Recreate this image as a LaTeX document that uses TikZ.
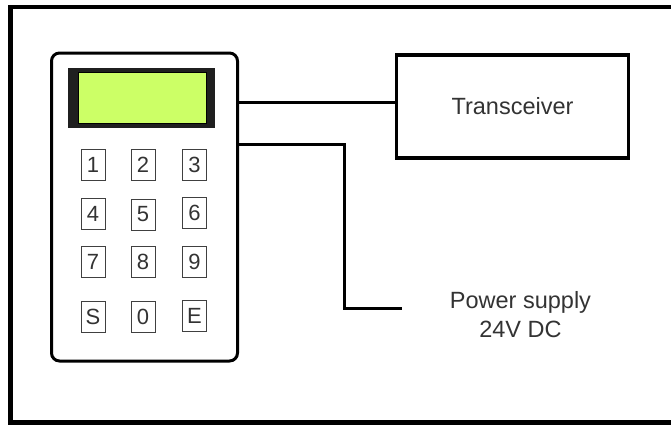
\documentclass[tikz,border=0pt]{standalone}
\usepackage{fontspec}
\setmainfont{Liberation Sans}
\begin{document}
\begin{tikzpicture}[x=1pt,y=-1pt,
  keybox/.style={draw=black!75,line width=0.9pt,minimum width=24pt,minimum height=31pt,inner sep=0pt,outer sep=0pt,text=black!80,font=\fontsize{22}{26}\selectfont},
  label/.style={text=black!80,font=\fontsize{23.5}{29}\selectfont,align=center},
  wire/.style={draw=black,line width=3pt}]
\useasboundingbox (0,0) rectangle (671,424);
\clip (0,0) rectangle (671,424);
% outer frame
\draw[line width=4.5pt] (10.5,7) rectangle (690,422.5);
% keypad body
\node[draw=black,line width=3pt,rounded corners=8pt,minimum width=186pt,minimum height=308pt,inner sep=0pt,outer sep=0pt] (keypad) at (144.5,207) {};
% display
\node[fill=black!88,minimum width=147pt,minimum height=60pt,inner sep=0pt,outer sep=0pt] (lcd) at (141.5,98) {};
\node[fill={rgb,255:red,204;green,255;blue,102},draw=black,line width=0.8pt,minimum width=128pt,minimum height=51pt,inner sep=0pt] (screen) at (142,97.5) {};
% keys
\node[keybox] (k1) at (93,164.5) {1};
\node[keybox] (k2) at (143,164.5) {2};
\node[keybox] (k3) at (194.5,164.5) {3};
\node[keybox] (k4) at (93,213.5) {4};
\node[keybox] (k5) at (143,214.5) {5};
\node[keybox] (k6) at (194.5,213) {6};
\node[keybox] (k7) at (93,261.5) {7};
\node[keybox] (k8) at (143,261.5) {8};
\node[keybox] (k9) at (194.5,261.5) {9};
\node[keybox] (kS) at (93,317) {S};
\node[keybox] (k0) at (143,317) {0};
\node[keybox] (kE) at (194.5,315.5) {E};
% transceiver
\node[draw=black,line width=3.3pt,minimum width=232pt,minimum height=103pt,inner sep=0pt,outer sep=0pt,label] (trans) at (512.5,106.5) {Transceiver};
% power supply label
\node[label] (power) at (520.5,315) {Power supply\\24V DC};
% connectors
\coordinate (c1) at (237.5,102.3);
\draw[wire] (c1) -- (c1 -| trans.west);
\coordinate (c2) at (237.5,144.3);
\coordinate (pend) at (401.7,308);
\draw[wire] (c2) -| (344,308) -- (pend);
\end{tikzpicture}
\end{document}
